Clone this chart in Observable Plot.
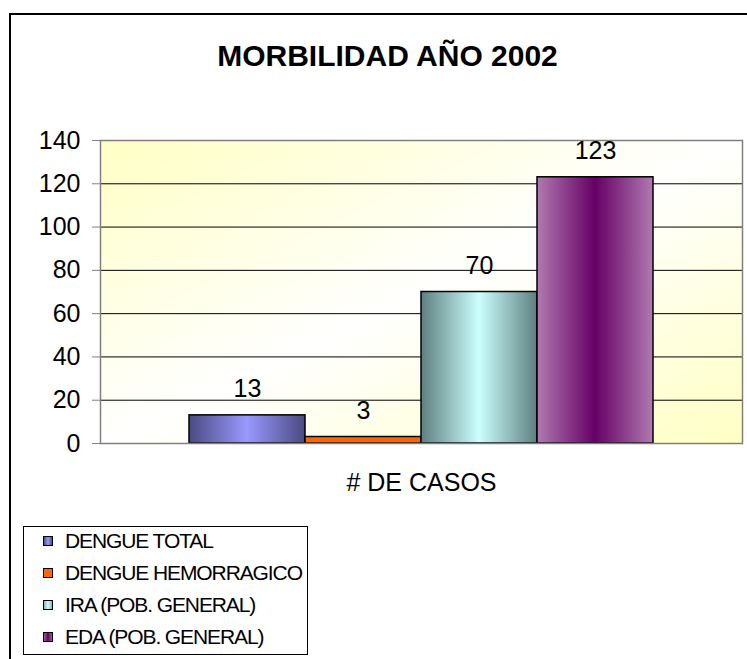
<!DOCTYPE html>
<html><head><meta charset="utf-8">
<script src="https://cdn.jsdelivr.net/npm/d3@7"></script>
<script src="https://cdn.jsdelivr.net/npm/@observablehq/plot@0.6"></script>
<style>
body{margin:0;background:#fff;font-family:"Liberation Sans",Arial,sans-serif;}
#wrap{position:relative;width:747px;height:659px;overflow:hidden;background:#fff;}
#border{position:absolute;left:9px;top:13px;width:800px;height:700px;border:2px solid #000;}
#title{position:absolute;left:0;width:775px;top:41px;text-align:center;font-weight:bold;font-size:30px;line-height:30px;color:#000;}
#chart{position:absolute;left:0;top:0;}
#legend{position:absolute;left:23px;top:526px;width:283px;height:127px;border:1px solid #000;background:#fff;}
.item{position:absolute;left:0;height:20px;line-height:20px;font-size:21px;letter-spacing:-1.1px;white-space:nowrap;color:#000;}
.sw{position:absolute;left:19px;top:5px;width:8px;height:8px;border:1px solid #000;}
.lab{position:absolute;left:41px;top:0;}
</style>
</head><body>
<div id="wrap">
  <div id="border"></div>
  <div id="title">MORBILIDAD AÑO 2002</div>
  <div id="chart"></div>
  <div id="legend"></div>
</div>
<script>
const categories = ["# DE CASOS"];
const series = ["DENGUE TOTAL", "DENGUE HEMORRAGICO", "IRA (POB. GENERAL)", "EDA (POB. GENERAL)"];
const values = [13, 3, 70, 123];
const yTicks = [0, 20, 40, 60, 80, 100, 120, 140];
const barFills = ["url(#gBlue)", "url(#gOrange)", "url(#gIra)", "url(#gEda)"];
const legendSwatches = [
  "linear-gradient(90deg,#4D4D85,#9999FF,#4D4D85)",
  "#FF6600",
  "linear-gradient(90deg,#8FB3B3,#CCFFFF,#8FB3B3)",
  "linear-gradient(90deg,#9A5A9A,#660066,#9A5A9A)"
];

const data = series.map((s, i) => ({group: categories[0], series: s, value: values[i], fill: barFills[i]}));

const font = '"Liberation Sans", Arial, sans-serif';
const chart = Plot.plot({
  width: 747, height: 500,
  marginLeft: 100, marginRight: 5, marginTop: 140, marginBottom: 57,
  style: {fontFamily: font, fontSize: "25px", color: "#000", background: "transparent", overflow: "visible"},
  fx: {domain: categories, padding: 0, label: null},
  x: {domain: series, type: "band", paddingInner: 0, paddingOuter: 0.747, axis: null},
  y: {domain: [0, 140], axis: null},
  color: {type: "identity"},
  marks: [
    Plot.frame({fill: "url(#gBg)", stroke: null}),
    Plot.gridY(yTicks.slice(1, -1), {stroke: "#000", strokeOpacity: 1}),
    Plot.barY(data, {fx: "group", x: "series", y: "value", fill: "fill", stroke: "#000", strokeWidth: 1.5}),
    Plot.frame({stroke: "#808080", strokeWidth: 1.5}),
    Plot.axisY({ticks: yTicks, tickSize: 8, tickPadding: 12, stroke: "#808080", fill: "#000", fontSize: 25, label: null, tickFormat: d => d}),
    Plot.axisFx({anchor: "bottom", tickSize: 0, tickPadding: 30, fontSize: 25, label: null, fill: "#000"}),
    Plot.text(data, {fx: "group", x: "series", y: "value", text: "value", dy: -18, lineAnchor: "bottom", fontSize: 25, fill: "#000"})
  ]
});

const svg = d3.select(chart);
const defs = svg.insert("defs", ":first-child");
function grad(id, stops, x2 = 1, y2 = 0) {
  const g = defs.append("linearGradient").attr("id", id)
    .attr("x1", 0).attr("y1", 0).attr("x2", x2).attr("y2", y2);
  stops.forEach(([o, c]) => g.append("stop").attr("offset", o).attr("stop-color", c));
}
grad("gBg", [[0, "#FFFFC4"], [0.5, "#FFFFFF"], [1, "#FFFFC4"]], 1, 1);
grad("gBlue", [[0, "#4A4A82"], [0.5, "#9999FF"], [1, "#4A4A82"]]);
grad("gOrange", [[0, "#FF6600"], [1, "#FF6600"]]);
grad("gIra", [[0, "#5F7F7F"], [0.5, "#CCFFFF"], [1, "#5F7F7F"]]);
grad("gEda", [[0, "#B07AB0"], [0.5, "#660066"], [1, "#B07AB0"]]);

document.getElementById("chart").appendChild(chart);

const legend = d3.select("#legend");
series.forEach((s, i) => {
  const it = legend.append("div").attr("class", "item").style("top", (14 + i * 32 - 10) + "px");
  it.append("div").attr("class", "sw").style("background", legendSwatches[i]);
  it.append("div").attr("class", "lab").text(s);
});
</script>
</body></html>
